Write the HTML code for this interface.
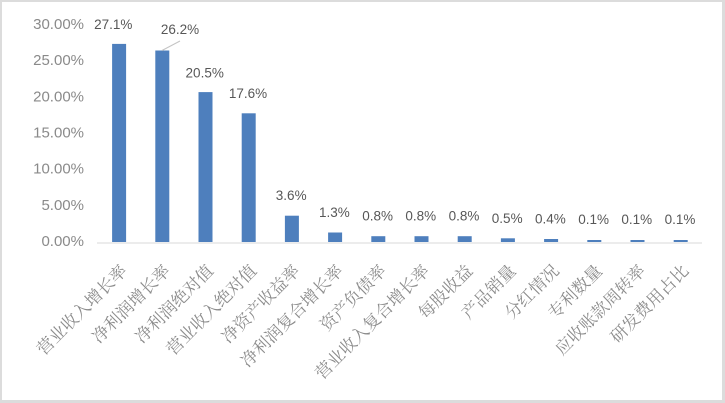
<!DOCTYPE html>
<html>
<head>
<meta charset="utf-8">
<style>
  html,body{margin:0;padding:0;background:#dcdcdc;}
  svg{display:block;}
  .yl{font-family:"Liberation Sans",sans-serif;font-size:15px;fill:#8a8a8a;}
  .dl{font-family:"Liberation Sans",sans-serif;font-size:13.5px;fill:#575757;}
  .xl{font-family:"Liberation Serif","Noto Serif CJK SC",serif;font-size:17px;fill:#8c8c8c;}
</style>
</head>
<body>
<svg width="725" height="403" viewBox="0 0 725 403" xmlns="http://www.w3.org/2000/svg">
  <rect x="0" y="0" width="725" height="403" fill="#dcdcdc"/>
  <rect x="2" y="2" width="720" height="398" fill="#ffffff"/>

  <!-- y axis labels -->
  <g class="yl" text-anchor="end" dominant-baseline="central">
    <text x="84" y="24.3">30.00%</text>
    <text x="84" y="60.5">25.00%</text>
    <text x="84" y="96.8">20.00%</text>
    <text x="84" y="133">15.00%</text>
    <text x="84" y="169.2">10.00%</text>
    <text x="84" y="205.5">5.00%</text>
    <text x="84" y="241.7">0.00%</text>
  </g>

  <!-- axis line -->
  <rect x="97" y="242" width="605" height="2" fill="#ececec"/>

  <!-- bars -->
  <g fill="#4e7fbd">
    <rect x="112.1" y="43.9" width="14" height="198.1"/>
    <rect x="155.3" y="50.5" width="14" height="191.5"/>
    <rect x="198.5" y="92.1" width="14" height="149.9"/>
    <rect x="241.7" y="113.3" width="14" height="128.7"/>
    <rect x="284.9" y="215.7" width="14" height="26.3"/>
    <rect x="328.1" y="232.5" width="14" height="9.5"/>
    <rect x="371.3" y="236.2" width="14" height="5.8"/>
    <rect x="414.5" y="236.2" width="14" height="5.8"/>
    <rect x="457.7" y="236.2" width="14" height="5.8"/>
    <rect x="500.9" y="238.3" width="14" height="3.7"/>
    <rect x="544.1" y="239" width="14" height="3"/>
    <rect x="587.3" y="240" width="14" height="2"/>
    <rect x="630.5" y="240" width="14" height="2"/>
    <rect x="673.7" y="240" width="14" height="2"/>
  </g>

  <!-- leader line -->
  <line x1="162" y1="50.5" x2="180" y2="41" stroke="#c4c4c4" stroke-width="1"/>

  <!-- data labels -->
  <g class="dl" text-anchor="middle" dominant-baseline="central">
    <text x="113.3" y="24.3">27.1%</text>
    <text x="180" y="29.3">26.2%</text>
    <text x="204.7" y="72.8">20.5%</text>
    <text x="248" y="93.3">17.6%</text>
    <text x="291.2" y="195.7">3.6%</text>
    <text x="334.4" y="212.4">1.3%</text>
    <text x="377.6" y="216.2">0.8%</text>
    <text x="420.8" y="216.2">0.8%</text>
    <text x="464" y="216.2">0.8%</text>
    <text x="507.2" y="218.3">0.5%</text>
    <text x="550.4" y="219">0.4%</text>
    <text x="593.6" y="219.5">0.1%</text>
    <text x="636.8" y="219.5">0.1%</text>
    <text x="680" y="219.5">0.1%</text>
  </g>

  <!-- x axis labels -->
  <g class="xl" text-anchor="end" dominant-baseline="central">
    <text transform="translate(124.1,268) rotate(-45)">营业收入增长率</text>
    <text transform="translate(167.3,268) rotate(-45)">净利润增长率</text>
    <text transform="translate(210.5,268) rotate(-45)">净利润绝对值</text>
    <text transform="translate(253.7,268) rotate(-45)">营业收入绝对值</text>
    <text transform="translate(296.9,268) rotate(-45)">净资产收益率</text>
    <text transform="translate(340.1,268) rotate(-45)">净利润复合增长率</text>
    <text transform="translate(383.3,268) rotate(-45)">资产负债率</text>
    <text transform="translate(426.5,268) rotate(-45)">营业收入复合增长率</text>
    <text transform="translate(469.7,268) rotate(-45)">每股收益</text>
    <text transform="translate(512.9,268) rotate(-45)">产品销量</text>
    <text transform="translate(556.1,268) rotate(-45)">分红情况</text>
    <text transform="translate(599.3,268) rotate(-45)">专利数量</text>
    <text transform="translate(642.5,268) rotate(-45)">应收账款周转率</text>
    <text transform="translate(685.7,268) rotate(-45)">研发费用占比</text>
  </g>
</svg>
</body>
</html>
